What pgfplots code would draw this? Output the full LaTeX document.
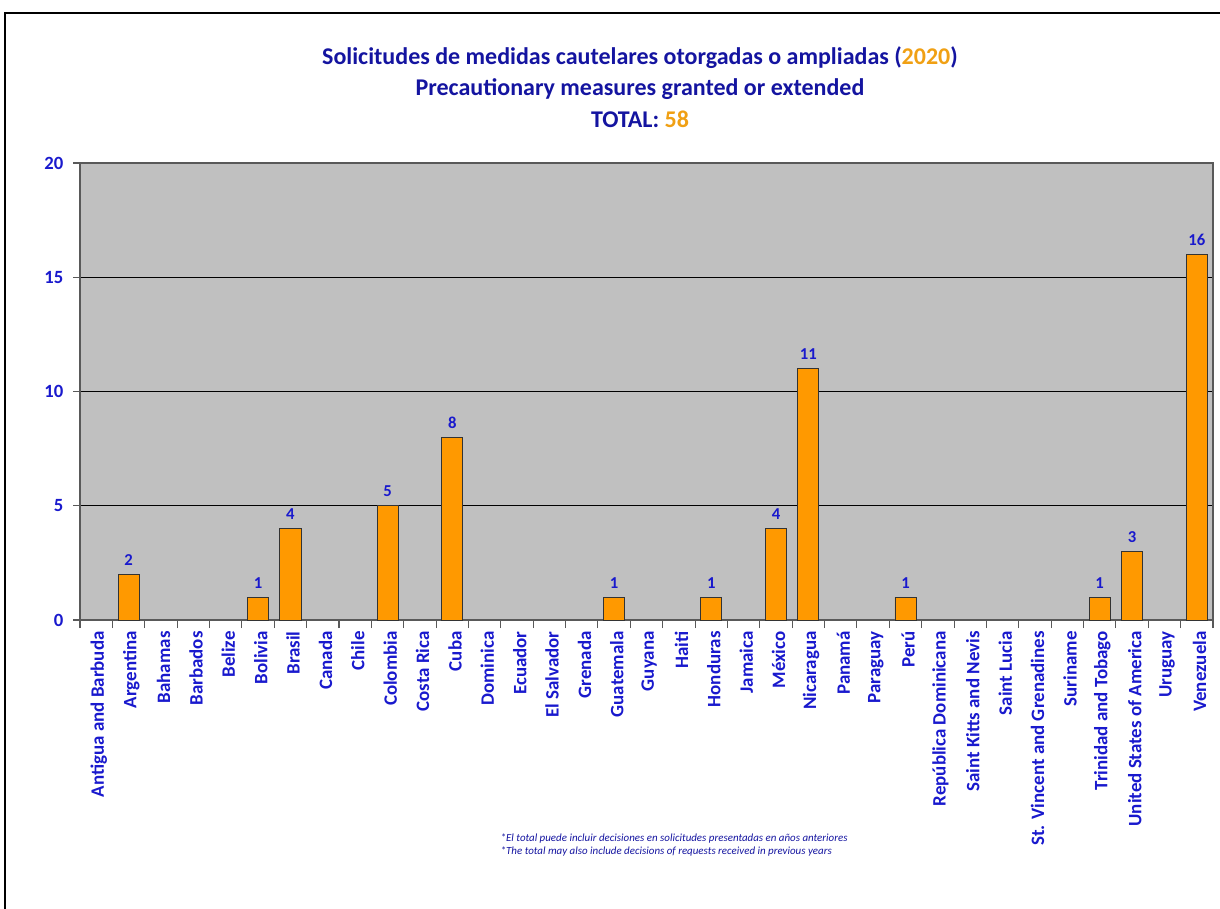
\documentclass[border=0pt]{standalone}
\usepackage{fontspec}
\setmainfont{Carlito}
\usepackage{pgfplots}
\pgfplotsset{compat=1.18}
\definecolor{titleblue}{RGB}{20,20,160}
\definecolor{tickblue}{RGB}{25,25,205}
\definecolor{baror}{RGB}{255,153,0}
\definecolor{plotgray}{RGB}{192,192,192}
\definecolor{yeargold}{RGB}{240,160,20}

\begin{document}
\begin{tikzpicture}
\useasboundingbox (0,0) rectangle (915pt,681pt);
% frame of the slide
\draw[black, line width=0.9pt] (3.75pt,-10pt) -- (3.75pt,671.25pt) -- (930pt,671.25pt);

% titles
\node[font=\bfseries\fontsize{18}{21}\selectfont, text=titleblue] at (480pt,637.5pt)
  {Solicitudes de medidas cautelares otorgadas o ampliadas (\textcolor{yeargold}{2020})};
\node[font=\bfseries\fontsize{18}{21}\selectfont, text=titleblue] at (480pt,614.25pt)
  {Precautionary measures granted or extended};
\node[font=\bfseries\fontsize{18}{21}\selectfont, text=titleblue] at (480pt,591.75pt)
  {TOTAL: \textcolor{yeargold}{58}};

\begin{axis}[
    at={(60pt,216pt)}, anchor=south west,
    scale only axis,
    width=849.75pt, height=342.75pt,
    ymin=0, ymax=20,
    xmin=-0.5, xmax=34.5,
    ytick={0,5,10,15,20},
    ymajorgrids=true,
    grid style={black, line width=0.6pt},
    axis background/.style={fill=plotgray},
    axis line style={draw=black!65, line width=0.8pt},
    xtick={0,...,34},
    minor xtick={-0.5,0.5,...,34.5},
    xticklabels={Antigua and Barbuda, Argentina, Bahamas, Barbados, Belize, Bolivia, Brasil, Canada, Chile, Colombia, Costa Rica, Cuba, Dominica, Ecuador, El Salvador, Grenada, Guatemala, Guyana, Haiti, Honduras, Jamaica, México, Nicaragua, Panamá, Paraguay, Perú, República Dominicana, Saint Kitts and Nevis, Saint Lucia, St. Vincent and Grenadines, Suriname, Trinidad and Tobago, United States of America, Uruguay, Venezuela},
    xticklabel style={rotate=90, anchor=east, font=\bfseries\fontsize{14.2}{16}\selectfont, text=tickblue, yshift=-2pt},
    yticklabel style={font=\bfseries\fontsize{14}{16}\selectfont, text=tickblue, xshift=-4pt},
    /pgf/number format/assume math mode=true,
    tick align=outside,
    major tick length=5pt,
    minor tick length=6pt,
    x tick style={draw=none},
    minor x tick style={draw=black!65, line width=0.8pt},
    y tick style={draw=black!65, line width=0.8pt},
    xtick pos=bottom, ytick pos=left,
    ybar,
    bar width=0.65,
    nodes near coords,
    every node near coord/.append style={font=\bfseries\fontsize{12.5}{14}\selectfont, text=tickblue, yshift=3pt},
]
\addplot[draw=black!80, fill=baror, line width=0.6pt] coordinates {
    (1,2) (5,1) (6,4) (9,5) (11,8) (16,1) (19,1)
    (21,4) (22,11) (25,1) (31,1) (32,3) (34,16)
};
\end{axis}

% footnote
\node[anchor=west, align=left, font=\itshape\fontsize{8.2}{9.75}\selectfont, text=titleblue] at (372pt,46.9pt)
  {*El total puede incluir decisiones en solicitudes presentadas en años anteriores\\
   *The total may also include decisions of requests received in previous years};
\end{tikzpicture}
\end{document}
